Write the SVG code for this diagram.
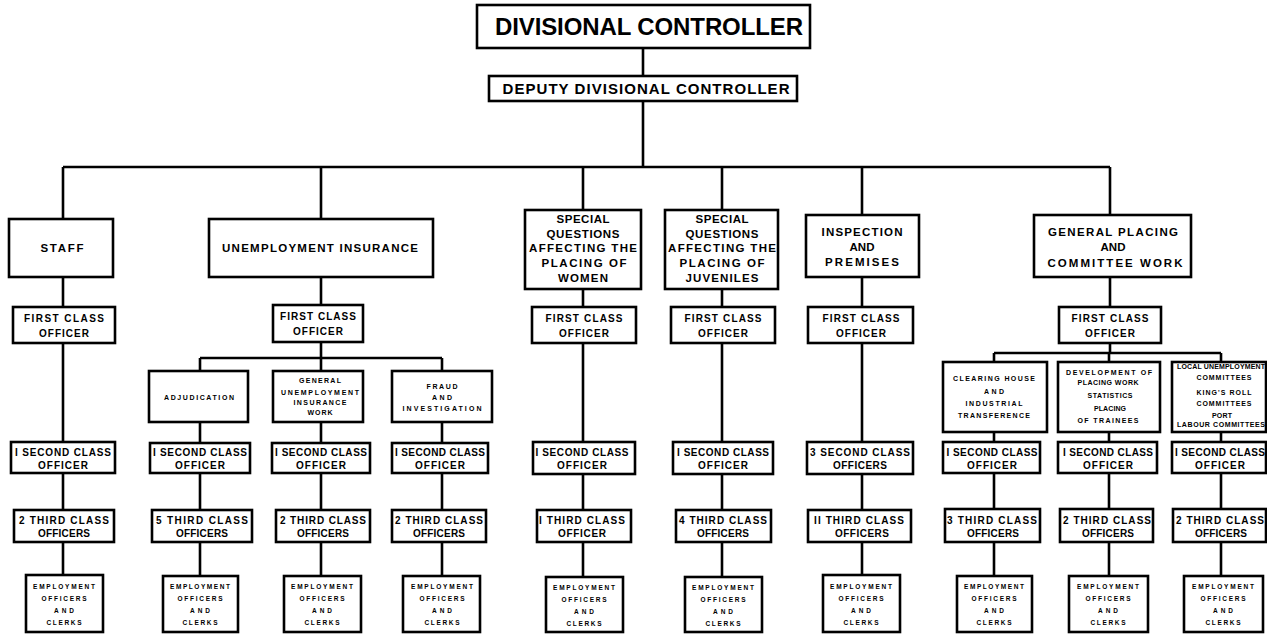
<svg xmlns="http://www.w3.org/2000/svg" width="1267" height="635" viewBox="0 0 1267 635">
<style>
.b{fill:#fff;stroke:#000;stroke-width:2.6}
.c{fill:none;stroke:#000;stroke-width:2.6}
text{font-family:"Liberation Sans",Arial,sans-serif;font-weight:bold;text-anchor:middle;fill:#000}
.t1{font-size:24px}.t2{font-size:15px}.t3{font-size:11.5px}.t4{font-size:10px}.t5{font-size:7px}.t6{font-size:6.5px}
</style>
<rect width="1267" height="635" fill="#fff"/>
<g id="connectors" class="c">
<path d="M643 48V76M643 101V167M63 167H1110M63 167V219M321 167V219M583 167V210M722 167V210M862 167V215M1110 167V215"/>
<path d="M63 277V307M63 343V442M63 473V510M63 542V575"/>
<path d="M321 277V305M321 342V358M200 358H442M200 358V371M321 358V371M442 358V371"/>
<path d="M200 422V443M200 473V510M200 542V576M321 422V443M321 473V510M321 542V576M442 422V443M442 473V510M442 542V576"/>
<path d="M583 289V307M583 343V442M583 474V510M583 542V577"/>
<path d="M722 289V307M722 343V442M722 474V510M722 542V577"/>
<path d="M862 277V307M862 343V442M862 474V510M862 542V575"/>
<path d="M1110 277V307M1110 343V353M994 353H1221M994 353V362M1109 353V362M1221 353V362"/>
<path d="M994 432V442M994 473V509M994 542V576M1109 432V442M1109 473V509M1109 542V576M1221 432V442M1221 473V509M1221 542V576"/>
</g>
<g id="divisional-controller"><rect class="b" x="477" y="5" width="333" height="43" stroke-width="3"/><text class="t1" x="649" y="35" textLength="308">DIVISIONAL CONTROLLER</text></g>
<g id="deputy"><rect class="b" x="489" y="76" width="308" height="25"/><text class="t2" x="646" y="94" textLength="287">DEPUTY DIVISIONAL CONTROLLER</text></g>

<g id="staff"><rect class="b" x="9" y="219" width="104" height="58"/><text class="t3" x="62" y="252" textLength="43">STAFF</text></g>
<g id="staff-fc"><rect class="b" x="13" y="307" width="102" height="36"/><text class="t4" x="64" y="322" textLength="80">FIRST CLASS</text><text class="t4" x="64" y="337" textLength="50">OFFICER</text></g>
<g id="staff-sc"><rect class="b" x="11" y="442" width="104" height="31"/><text class="t4" x="63" y="456" textLength="96">I SECOND CLASS</text><text class="t4" x="63" y="469" textLength="50">OFFICER</text></g>
<g id="staff-tc"><rect class="b" x="14" y="510" width="100" height="32"/><text class="t4" x="64" y="524" textLength="90">2 THIRD CLASS</text><text class="t4" x="64" y="537" textLength="52">OFFICERS</text></g>
<g id="staff-emp"><rect class="b" x="26" y="575" width="77" height="57"/><text class="t6" x="64" y="589" textLength="62">EMPLOYMENT</text><text class="t6" x="64" y="601" textLength="45">OFFICERS</text><text class="t6" x="64" y="613" textLength="20">AND</text><text class="t6" x="64" y="625" textLength="35">CLERKS</text></g>

<g id="ui"><rect class="b" x="209" y="219" width="224" height="58"/><text class="t3" x="320" y="252" textLength="196">UNEMPLOYMENT INSURANCE</text></g>
<g id="ui-fc"><rect class="b" x="273" y="305" width="90" height="37"/><text class="t4" x="318" y="320" textLength="76">FIRST CLASS</text><text class="t4" x="318" y="335" textLength="50">OFFICER</text></g>
<g id="ui-adj"><rect class="b" x="149" y="371" width="99" height="51"/><text class="t5" x="199" y="400" textLength="70">ADJUDICATION</text></g>
<g id="ui-gen"><rect class="b" x="273" y="371" width="90" height="51"/><text class="t5" x="320" y="383" textLength="42">GENERAL</text><text class="t5" x="320" y="395" textLength="78">UNEMPLOYMENT</text><text class="t5" x="320" y="405" textLength="53">INSURANCE</text><text class="t5" x="320" y="415" textLength="25">WORK</text></g>
<g id="ui-fraud"><rect class="b" x="392" y="371" width="100" height="51"/><text class="t5" x="442" y="389" textLength="31">FRAUD</text><text class="t5" x="442" y="400" textLength="20">AND</text><text class="t5" x="442" y="411" textLength="79">INVESTIGATION</text></g>
<g id="ui-adj-sc"><rect class="b" x="150" y="443" width="100" height="30"/><text class="t4" x="200" y="456" textLength="94">I SECOND CLASS</text><text class="t4" x="200" y="469" textLength="50">OFFICER</text></g>
<g id="ui-gen-sc"><rect class="b" x="272" y="443" width="98" height="30"/><text class="t4" x="321" y="456" textLength="92">I SECOND CLASS</text><text class="t4" x="321" y="469" textLength="50">OFFICER</text></g>
<g id="ui-fraud-sc"><rect class="b" x="392" y="443" width="96" height="30"/><text class="t4" x="440" y="456" textLength="90">I SECOND CLASS</text><text class="t4" x="440" y="469" textLength="50">OFFICER</text></g>
<g id="ui-adj-tc"><rect class="b" x="152" y="510" width="100" height="32"/><text class="t4" x="202" y="524" textLength="92">5 THIRD CLASS</text><text class="t4" x="202" y="537" textLength="52">OFFICERS</text></g>
<g id="ui-gen-tc"><rect class="b" x="276" y="510" width="94" height="32"/><text class="t4" x="323" y="524" textLength="86">2 THIRD CLASS</text><text class="t4" x="323" y="537" textLength="52">OFFICERS</text></g>
<g id="ui-fraud-tc"><rect class="b" x="392" y="510" width="94" height="32"/><text class="t4" x="439" y="524" textLength="88">2 THIRD CLASS</text><text class="t4" x="439" y="537" textLength="52">OFFICERS</text></g>
<g id="ui-adj-emp"><rect class="b" x="163" y="576" width="75" height="56"/><text class="t6" x="200" y="589" textLength="60">EMPLOYMENT</text><text class="t6" x="200" y="601" textLength="45">OFFICERS</text><text class="t6" x="200" y="613" textLength="20">AND</text><text class="t6" x="200" y="625" textLength="35">CLERKS</text></g>
<g id="ui-gen-emp"><rect class="b" x="284" y="576" width="77" height="56"/><text class="t6" x="322" y="589" textLength="62">EMPLOYMENT</text><text class="t6" x="322" y="601" textLength="45">OFFICERS</text><text class="t6" x="322" y="613" textLength="20">AND</text><text class="t6" x="322" y="625" textLength="35">CLERKS</text></g>
<g id="ui-fraud-emp"><rect class="b" x="403" y="576" width="77" height="56"/><text class="t6" x="442" y="589" textLength="62">EMPLOYMENT</text><text class="t6" x="442" y="601" textLength="45">OFFICERS</text><text class="t6" x="442" y="613" textLength="20">AND</text><text class="t6" x="442" y="625" textLength="35">CLERKS</text></g>

<g id="women"><rect class="b" x="525" y="210" width="116" height="79"/><text class="t3" x="583" y="223" textLength="53">SPECIAL</text><text class="t3" x="583" y="238" textLength="73">QUESTIONS</text><text class="t3" x="583" y="252" textLength="108">AFFECTING THE</text><text class="t3" x="584" y="267" textLength="85">PLACING OF</text><text class="t3" x="583" y="282" textLength="50">WOMEN</text></g>
<g id="women-fc"><rect class="b" x="532" y="307" width="104" height="36"/><text class="t4" x="584" y="322" textLength="77">FIRST CLASS</text><text class="t4" x="584" y="337" textLength="50">OFFICER</text></g>
<g id="women-sc"><rect class="b" x="533" y="442" width="102" height="32"/><text class="t4" x="582" y="456" textLength="93">I SECOND CLASS</text><text class="t4" x="582" y="469" textLength="50">OFFICER</text></g>
<g id="women-tc"><rect class="b" x="537" y="510" width="94" height="32"/><text class="t4" x="582" y="524" textLength="86">I THIRD CLASS</text><text class="t4" x="582" y="537" textLength="48">OFFICER</text></g>
<g id="women-emp"><rect class="b" x="546" y="577" width="77" height="55"/><text class="t6" x="584" y="590" textLength="62">EMPLOYMENT</text><text class="t6" x="584" y="602" textLength="45">OFFICERS</text><text class="t6" x="584" y="614" textLength="20">AND</text><text class="t6" x="584" y="626" textLength="35">CLERKS</text></g>

<g id="juveniles"><rect class="b" x="665" y="210" width="113" height="79"/><text class="t3" x="722" y="223" textLength="53">SPECIAL</text><text class="t3" x="722" y="238" textLength="73">QUESTIONS</text><text class="t3" x="722" y="252" textLength="108">AFFECTING THE</text><text class="t3" x="722" y="267" textLength="85">PLACING OF</text><text class="t3" x="722" y="282" textLength="73">JUVENILES</text></g>
<g id="juveniles-fc"><rect class="b" x="671" y="307" width="104" height="36"/><text class="t4" x="723" y="322" textLength="77">FIRST CLASS</text><text class="t4" x="723" y="337" textLength="50">OFFICER</text></g>
<g id="juveniles-sc"><rect class="b" x="673" y="442" width="100" height="32"/><text class="t4" x="723" y="456" textLength="92">I SECOND CLASS</text><text class="t4" x="723" y="469" textLength="50">OFFICER</text></g>
<g id="juveniles-tc"><rect class="b" x="676" y="510" width="95" height="32"/><text class="t4" x="723" y="524" textLength="88">4 THIRD CLASS</text><text class="t4" x="723" y="537" textLength="52">OFFICERS</text></g>
<g id="juveniles-emp"><rect class="b" x="685" y="577" width="77" height="55"/><text class="t6" x="723" y="590" textLength="62">EMPLOYMENT</text><text class="t6" x="723" y="602" textLength="45">OFFICERS</text><text class="t6" x="723" y="614" textLength="20">AND</text><text class="t6" x="723" y="626" textLength="35">CLERKS</text></g>

<g id="inspection"><rect class="b" x="806" y="215" width="113" height="62"/><text class="t3" x="862" y="236" textLength="81">INSPECTION</text><text class="t3" x="862" y="251" textLength="25">AND</text><text class="t3" x="862" y="266" textLength="74">PREMISES</text></g>
<g id="inspection-fc"><rect class="b" x="808" y="307" width="105" height="36"/><text class="t4" x="861" y="322" textLength="77">FIRST CLASS</text><text class="t4" x="861" y="337" textLength="50">OFFICER</text></g>
<g id="inspection-sc"><rect class="b" x="807" y="442" width="106" height="32"/><text class="t4" x="860" y="456" textLength="100">3 SECOND CLASS</text><text class="t4" x="860" y="469" textLength="54">OFFICERS</text></g>
<g id="inspection-tc"><rect class="b" x="808" y="510" width="103" height="32"/><text class="t4" x="859" y="524" textLength="90">II THIRD CLASS</text><text class="t4" x="862" y="537" textLength="54">OFFICERS</text></g>
<g id="inspection-emp"><rect class="b" x="823" y="575" width="77" height="57"/><text class="t6" x="861" y="589" textLength="62">EMPLOYMENT</text><text class="t6" x="861" y="601" textLength="45">OFFICERS</text><text class="t6" x="861" y="613" textLength="20">AND</text><text class="t6" x="861" y="625" textLength="35">CLERKS</text></g>

<g id="general"><rect class="b" x="1034" y="215" width="157" height="62"/><text class="t3" x="1113" y="236" textLength="130">GENERAL PLACING</text><text class="t3" x="1113" y="251" textLength="25">AND</text><text class="t3" x="1115" y="267" textLength="135">COMMITTEE WORK</text></g>
<g id="general-fc"><rect class="b" x="1059" y="307" width="102" height="36"/><text class="t4" x="1110" y="322" textLength="77">FIRST CLASS</text><text class="t4" x="1110" y="337" textLength="50">OFFICER</text></g>
<g id="general-clearing"><rect class="b" x="943" y="362" width="104" height="70"/><text class="t5" x="994" y="381" textLength="82">CLEARING HOUSE</text><text class="t5" x="994" y="394" textLength="20">AND</text><text class="t5" x="994" y="406" textLength="57">INDUSTRIAL</text><text class="t5" x="994" y="418" textLength="72">TRANSFERENCE</text></g>
<g id="general-development"><rect class="b" x="1058" y="362" width="102" height="70"/><text class="t5" x="1109" y="375" textLength="86">DEVELOPMENT OF</text><text class="t5" x="1108" y="385" textLength="61">PLACING WORK</text><text class="t5" x="1110" y="398" textLength="45">STATISTICS</text><text class="t5" x="1110" y="411" textLength="32">PLACING</text><text class="t5" x="1108" y="423" textLength="61">OF TRAINEES</text></g>
<g id="general-local"><rect class="b" x="1172" y="362" width="94" height="70"/><text class="t5" x="1221" y="369" textLength="88">LOCAL UNEMPLOYMENT</text><text class="t5" x="1224" y="380" textLength="55">COMMITTEES</text><text class="t5" x="1224" y="395" textLength="55">KING'S ROLL</text><text class="t5" x="1224" y="406" textLength="55">COMMITTEES</text><text class="t5" x="1222" y="418" textLength="20">PORT</text><text class="t5" x="1221" y="427" textLength="88">LABOUR COMMITTEES</text></g>
<g id="general-clearing-sc"><rect class="b" x="943" y="442" width="97" height="31"/><text class="t4" x="992" y="456" textLength="91">I SECOND CLASS</text><text class="t4" x="992" y="469" textLength="50">OFFICER</text></g>
<g id="general-development-sc"><rect class="b" x="1058" y="442" width="99" height="31"/><text class="t4" x="1108" y="456" textLength="90">I SECOND CLASS</text><text class="t4" x="1108" y="469" textLength="50">OFFICER</text></g>
<g id="general-local-sc"><rect class="b" x="1172" y="442" width="94" height="31"/><text class="t4" x="1220" y="456" textLength="90">I SECOND CLASS</text><text class="t4" x="1220" y="469" textLength="50">OFFICER</text></g>
<g id="general-clearing-tc"><rect class="b" x="945" y="509" width="95" height="33"/><text class="t4" x="992" y="524" textLength="90">3 THIRD CLASS</text><text class="t4" x="993" y="537" textLength="52">OFFICERS</text></g>
<g id="general-development-tc"><rect class="b" x="1060" y="509" width="93" height="33"/><text class="t4" x="1107" y="524" textLength="88">2 THIRD CLASS</text><text class="t4" x="1108" y="537" textLength="52">OFFICERS</text></g>
<g id="general-local-tc"><rect class="b" x="1173" y="509" width="93" height="33"/><text class="t4" x="1220" y="524" textLength="88">2 THIRD CLASS</text><text class="t4" x="1221" y="537" textLength="52">OFFICERS</text></g>
<g id="general-clearing-emp"><rect class="b" x="957" y="576" width="75" height="56"/><text class="t6" x="994" y="589" textLength="60">EMPLOYMENT</text><text class="t6" x="994" y="601" textLength="45">OFFICERS</text><text class="t6" x="994" y="613" textLength="20">AND</text><text class="t6" x="994" y="625" textLength="35">CLERKS</text></g>
<g id="general-development-emp"><rect class="b" x="1069" y="576" width="79" height="56"/><text class="t6" x="1108" y="589" textLength="62">EMPLOYMENT</text><text class="t6" x="1108" y="601" textLength="45">OFFICERS</text><text class="t6" x="1108" y="613" textLength="20">AND</text><text class="t6" x="1108" y="625" textLength="35">CLERKS</text></g>
<g id="general-local-emp"><rect class="b" x="1184" y="576" width="79" height="56"/><text class="t6" x="1223" y="589" textLength="62">EMPLOYMENT</text><text class="t6" x="1223" y="601" textLength="45">OFFICERS</text><text class="t6" x="1223" y="613" textLength="20">AND</text><text class="t6" x="1223" y="625" textLength="35">CLERKS</text></g>
</svg>
